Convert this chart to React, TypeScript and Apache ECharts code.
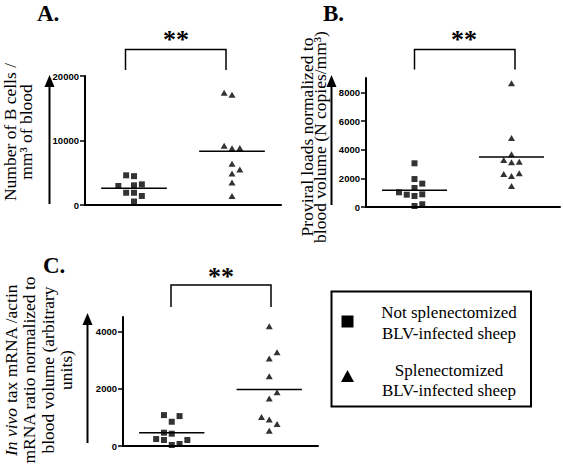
import React, { useEffect, useRef } from 'react';
import * as echarts from 'echarts';

// ---------- data ----------
const groupNames = ['Not splenectomized BLV-infected sheep', 'Splenectomized BLV-infected sheep'];
const groupCenters = [1, 3];

// Panel A: number of B cells / mm3 of blood
const bCellsNotSplen = [4600, 1900, 4470, 3050, 1900, 540, 2950, 3200, 1400];
const bCellsNotSplenCol = [-1, -1, 0, 0, 0, 0, -2, 1, 1];
const bCellsSplen = [17400, 17080, 9200, 8800, 8840, 6400, 5500, 4900, 3480, 1380];
const bCellsSplenCol = [-1, 0, -1, 0, 1, 0, 1, 0, 0, 0];
const bCellsMeans = [2600, 8330];
const bCellsTicks = [0, 10000, 20000];
const bCellsMax = 20000;

// Panel B: proviral loads normalized to blood volume
const proviralNotSplen = [3050, 1950, 1630, 1325, 1025, 860, 885, 770, 70, 190];
const proviralNotSplenCol = [0, 0, 1, 0, -2, -1, 1, 0, 0, 1];
const proviralSplen = [8630, 4815, 3680, 3280, 3120, 3160, 2300, 2160, 2350, 1465];
const proviralSplenCol = [0, 0, 0, -1, 0, 1, -1, 0, 1, 0];
const proviralMeans = [1165, 3490];
const proviralTicks = [0, 2000, 4000, 6000, 8000];
const proviralMax = 9000;

// Panel C: in vivo tax mRNA / actin mRNA ratio normalized to blood volume
const taxNotSplen = [1078, 1043, 846, 464, 429, 243, 209, 209, 70, 35];
const taxNotSplenCol = [-1, 1, 0, -1, 0, -2, -1, 2, 1, 0];
const taxSplen = [4174, 3270, 3049, 2435, 1878, 1658, 1009, 928, 765, 533];
const taxSplenCol = [0, 1, 0, 0, 1, 0, -1, 0, 1, 0];
const taxMeans = [464, 1971];
const taxTicks = [0, 2000, 4000];
const taxMax = 4500;

// axis titles (one entry per line)
const titleA = ['Number of B cells /', 'mm³ of blood'];
const titleB = ['Proviral loads normalized to', 'blood volume (N copies/mm³)'];
const titleC = ['{i|In vivo} tax mRNA /actin', 'mRNA ratio normalized to', 'blood volume (arbitrary', 'units)'];
const legendA = ['Not splenectomized', 'BLV-infected sheep'];
const legendB = ['Splenectomized', 'BLV-infected sheep'];

// ---------- layout / style ----------
const SERIF = "'Liberation Serif', 'Times New Roman', serif";
const SANS = "'Liberation Sans', Arial, sans-serif";
const JITTER = 0.16;
const HALF = 0.67;

const panels = [
  { a: bCellsNotSplen, ac: bCellsNotSplenCol, b: bCellsSplen, bc: bCellsSplenCol, means: bCellsMeans, ticks: bCellsTicks, max: bCellsMax,
    grid: { left: 85, top: 76, width: 196, height: 129 } },
  { a: proviralNotSplen, ac: proviralNotSplenCol, b: proviralSplen, bc: proviralSplenCol, means: proviralMeans, ticks: proviralTicks, max: proviralMax,
    grid: { left: 366, top: 78, width: 194, height: 129 } },
  { a: taxNotSplen, ac: taxNotSplenCol, b: taxSplen, bc: taxSplenCol, means: taxMeans, ticks: taxTicks, max: taxMax,
    grid: { left: 123, top: 317, width: 195, height: 129 } },
];

function buildOption() {
  const grid: any[] = [];
  const xAxis: any[] = [];
  const yAxis: any[] = [];
  const series: any[] = [];
  panels.forEach((p, i) => {
    grid.push({ ...p.grid, containLabel: false });
    xAxis.push({
      type: 'value', gridIndex: i, min: 0, max: 4,
      axisLine: { show: true, onZero: false, lineStyle: { color: '#000', width: 2 } },
      axisTick: { show: false }, axisLabel: { show: false }, splitLine: { show: false },
    });
    yAxis.push({
      type: 'value', gridIndex: i, min: 0, max: p.max,
      axisLine: { show: true, lineStyle: { color: '#000', width: 2 } },
      axisTick: { show: true, length: 5, customValues: p.ticks, lineStyle: { color: '#000', width: 1.5 } },
      axisLabel: {
        show: true, customValues: p.ticks, margin: 6, color: '#000', fontFamily: SANS, fontWeight: 'bold', fontSize: 9.5,
        formatter: (v: number) => String(v),
      },
      splitLine: { show: false },
    });
    series.push({
      name: groupNames[0], type: 'scatter', xAxisIndex: i, yAxisIndex: i,
      symbol: 'rect', symbolSize: 6, itemStyle: { color: '#000' },
      data: p.a.map((v, k) => [groupCenters[0] + p.ac[k] * JITTER, v]),
    });
    series.push({
      name: groupNames[1], type: 'scatter', xAxisIndex: i, yAxisIndex: i,
      symbol: 'triangle', symbolSize: [7, 6], itemStyle: { color: '#000' },
      data: p.b.map((v, k) => [groupCenters[1] + p.bc[k] * JITTER, v]),
    });
    p.means.forEach((m, g) => {
      series.push({
        type: 'line', xAxisIndex: i, yAxisIndex: i, symbol: 'none', silent: true,
        lineStyle: { color: '#000', width: 1.5 },
        data: [[groupCenters[g] - HALF, m], [groupCenters[g] + HALF, m]],
      });
    });
  });

  const txt = (x: number, y: number, text: string, size: number, extra: any = {}, rotation = 0) => ({
    type: 'text', x, y, rotation,
    style: {
      text, fontFamily: SERIF, fontSize: size, fontWeight: extra.bold ? 'bold' : 'normal', fill: '#000',
      align: extra.align || 'center', verticalAlign: 'middle',
      textAlign: extra.align || 'center', textVerticalAlign: 'middle',
      rich: { i: { fontStyle: 'italic', fontFamily: SERIF, fontSize: size, fill: '#000' } },
    },
  });
  const arrow = (x: number, yTop: number, yBottom: number) => ([
    { type: 'line', shape: { x1: x, y1: yBottom, x2: x, y2: yTop + 8 }, style: { stroke: '#000', lineWidth: 2 } },
    { type: 'polygon', shape: { points: [[x - 5, yTop + 12], [x, yTop], [x + 5, yTop + 12]] }, style: { fill: '#000' } },
  ]);
  const bracket = (x1: number, x2: number, yTop: number, yBottom: number) => ({
    type: 'polyline', shape: { points: [[x1, yBottom], [x1, yTop], [x2, yTop], [x2, yBottom]] },
    style: { stroke: '#000', lineWidth: 1.5, fill: null },
  });
  const vLines = (lines: string[], xs: number[], y: number) =>
    lines.map((t, k) => txt(xs[k], y, t, 17.5, {}, Math.PI / 2));

  const graphic: any[] = [
    txt(37, 13.5, 'A.', 23, { align: 'left', bold: true }),
    txt(323, 13.5, 'B.', 23, { align: 'left', bold: true }),
    txt(43, 265, 'C.', 23, { align: 'left', bold: true }),
    txt(176, 39, '**', 26, { bold: true }),
    txt(464, 39, '**', 26, { bold: true }),
    txt(221, 276, '**', 26, { bold: true }),
    bracket(125.5, 226, 49.5, 70),
    bracket(414.5, 515, 49.5, 69.5),
    bracket(171, 271, 285, 307),
    ...arrow(49.5, 75, 204),
    ...arrow(331.5, 75, 205),
    ...arrow(87.5, 313, 443),
    ...vLines(titleA, [9.5, 25.5], 132),
    ...vLines(titleB, [306.5, 320], 137),
    ...vLines(titleC, [11, 29.3, 47.7, 66], 370),
    { type: 'rect', shape: { x: 331.5, y: 291.5, width: 199.5, height: 115 }, style: { fill: '#fff', stroke: '#000', lineWidth: 2 } },
    { type: 'rect', shape: { x: 341.5, y: 315.5, width: 12, height: 12 }, style: { fill: '#000' } },
    { type: 'polygon', shape: { points: [[341, 382], [347.5, 370], [354, 382]] }, style: { fill: '#000' } },
    txt(449, 312.8, legendA[0], 17),
    txt(449, 333.3, legendA[1], 17),
    txt(449, 370.3, legendB[0], 17),
    txt(449, 390.8, legendB[1], 17),
  ];

  return { animation: false, backgroundColor: '#fff', grid, xAxis, yAxis, series, graphic };
}

export default function App() {
  const ref = useRef<HTMLDivElement>(null);
  useEffect(() => {
    document.body.style.margin = '0';
    const chart = echarts.init(ref.current!, null, { renderer: 'svg' });
    chart.setOption(buildOption() as any);
    return () => chart.dispose();
  }, []);
  return <div ref={ref} style={{ width: 563, height: 468 }} />;
}
